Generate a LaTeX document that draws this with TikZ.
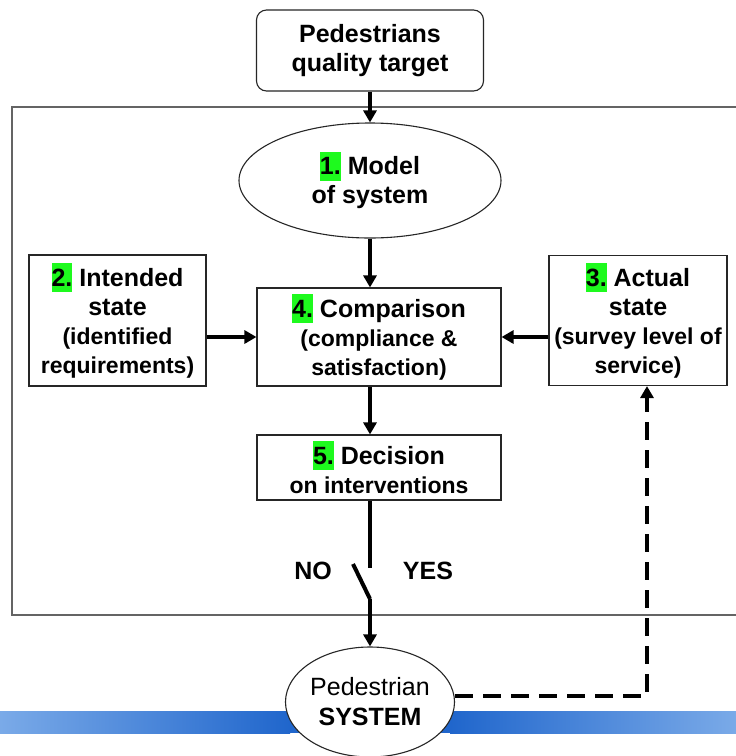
\documentclass[tikz,border=0pt]{standalone}
\usepackage{fontspec}
\setmainfont{Liberation Sans}
\usetikzlibrary{arrows.meta,shapes.geometric,calc}
\definecolor{hlgreen}{RGB}{30,250,30}
\definecolor{barlight}{RGB}{122,170,232}
\definecolor{bardark}{RGB}{32,102,204}
\definecolor{framegray}{RGB}{100,100,100}
\newcommand\hlnum[1]{{\setlength{\fboxsep}{0pt}\colorbox{hlgreen}{\rule[-6pt]{0pt}{29pt}#1}}}
\newcommand\subt[1]{{\fontsize{23}{29}\selectfont #1}}
\begin{document}
\begin{tikzpicture}[x=1pt,y=1pt,
  box/.style={draw=black!85,line width=1.1pt,fill=white,inner sep=0pt,align=center,
    font=\fontsize{25}{29}\selectfont\bfseries},
  conn/.style={line width=4.5pt,-{Triangle[width=13pt,length=12pt]}},
  plain/.style={line width=4.5pt},
  dashconn/.style={line width=4.5pt,dash pattern=on 18pt off 10pt,-{Triangle[width=13pt,length=12pt]}},
  lbl/.style={font=\fontsize{25}{29}\selectfont\bfseries,inner sep=0pt}]
\clip (0,0) rectangle (736,-756);
\fill[white] (0,0) rectangle (736,-756);
% blue bar
\shade[left color=barlight,right color=bardark] (0,-711) rectangle (290,-733);
\fill[bardark] (289,-711) rectangle (451,-733);
\shade[left color=bardark,right color=barlight] (450,-711) rectangle (736,-733);
% frame
\draw[framegray,line width=1.5pt] (12,-107) rectangle (760,-615);
% nodes
\node[box,rounded corners=10pt,minimum width=227,minimum height=81] (top) at (370,-50.5)
  {Pedestrians\\quality target};
\node[box,ellipse,minimum width=262,minimum height=115] (model) at (370,-180.5)
  {\hlnum{1.} Model\\of system};
\node[box,minimum width=177,minimum height=131] (left) at (117.5,-320.5)
  {\hlnum{2.} Intended\\state\\\subt{(identified}\\\subt{requirements)}};
\node[box,minimum width=244,minimum height=98] (comp) at (379,-337)
  {\hlnum{4.} Comparison\\\subt{(compliance \&}\\\subt{satisfaction)}};
\node[box,minimum width=178,minimum height=130] (right) at (638,-320.5)
  {\hlnum{3.} Actual\\state\\\subt{(survey level of}\\\subt{service)}};
\node[box,minimum width=244,minimum height=65] (dec) at (379,-467.5)
  {\hlnum{5.} Decision\\\subt{on interventions}};
\node[box,ellipse,minimum width=164,minimum height=110,font=\fontsize{25}{30}\selectfont] (ped) at (370,-702)
  {Pedestrian\\\textbf{SYSTEM}};
\node[lbl] (no) at (313,-571) {NO};
\node[lbl] (yes) at (428,-571) {YES};
% switch coordinates
\coordinate (swtop) at (370,-568);
\coordinate (bladetop) at (353,-564);
\coordinate (bladebot) at (370,-599);
\coordinate (dcorner) at (647,-696);
% connectors
\draw[conn] (top.south) -- (model.north);
\draw[conn] (model.south) -- (model.south |- comp.north);
\draw[conn] (comp.west -| left.east) -- (comp.west);
\draw[conn] (comp.east -| right.west) -- (comp.east);
\draw[conn] (model.south |- comp.south) -- (model.south |- dec.north);
\draw[plain] (model.south |- dec.south) -- (swtop);
\draw[line width=4pt] (bladetop) -- (bladebot);
\draw[conn] (bladebot) -- (ped.north);
\draw[dashconn] (ped.east |- dcorner) -- (dcorner) -- (dcorner |- right.south);
\end{tikzpicture}
\end{document}
